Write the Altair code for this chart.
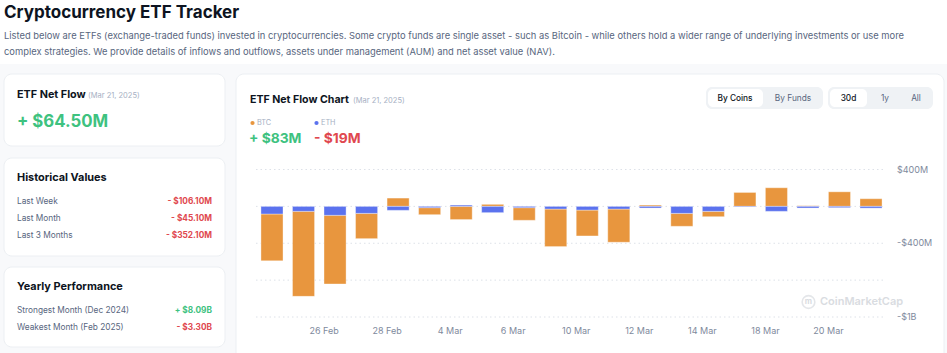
import altair as alt
import pandas as pd

# ---------------- data ----------------
dates = ["24 Feb", "25 Feb", "26 Feb", "27 Feb", "28 Feb", "3 Mar", "4 Mar", "5 Mar",
         "6 Mar", "7 Mar", "10 Mar", "11 Mar", "12 Mar", "13 Mar", "14 Mar", "17 Mar",
         "18 Mar", "19 Mar", "20 Mar", "21 Mar"]
btc_flow = [-508, -922, -745, -274, 90, -76, -143, 22, -137, -407, -281, -360, 14, -140,
            -58, 151, 202, 7, 158, 83]
eth_flow = [-83, -54, -97, -76, -43, -14, 14, -68, -14, -29, -40, -29, -18, -76, -54, -7,
            -54, -18, -14, -19]
coins = ["BTC", "ETH"]
x_tick_labels = ["26 Feb", "28 Feb", "4 Mar", "6 Mar", "10 Mar", "12 Mar", "14 Mar",
                 "18 Mar", "20 Mar"]
y_ticks = [400, 0, -400, -800, -1200]
y_tick_labels = ["$400M", "", "-$400M", "", "-$1B"]

hist_labels = ["Last Week", "Last Month", "Last 3 Months"]
hist_values = ["- $106.10M", "- $45.10M", "- $352.10M"]
perf_labels = ["Strongest Month (Dec 2024)", "Weakest Month (Feb 2025)"]
perf_values = ["+ $8.09B", "- $3.30B"]

# ---------------- style ----------------
FONT = "Inter"
W, H = 947, 353
ORANGE = "#e8963e"
BLUE = "#5b72ee"
GREEN = "#3ec27f"
RED = "#e0484f"
DARK = "#0d1421"
GRAY = "#58667e"
LIGHT = "#a6b0c3"
AXIS = "#808a9d"

rows = []
for d, b, e in zip(dates, btc_flow, eth_flow):
    rows.append({"date": d, "coin": "BTC", "flow": b, "stack_order": 1})
    rows.append({"date": d, "coin": "ETH", "flow": e, "stack_order": 0})
flows = pd.DataFrame(rows)

one = pd.DataFrame({"k": [0]})

x_scale = alt.Scale(domain=dates, range=[251.5, 891.5], paddingInner=0.3, paddingOuter=0.3)
y_scale = alt.Scale(domain=[-1200, 400], range=[317, 169.5], nice=False, zero=False)


def box(x1, y1, x2, y2, fill, radius=8, stroke=None):
    kw = dict(fill=fill, cornerRadius=radius)
    if stroke:
        kw.update(stroke=stroke, strokeWidth=1)
    return alt.Chart(one).mark_rect(**kw).encode(
        x=alt.value(x1), x2=alt.value(x2), y=alt.value(y1), y2=alt.value(y2))


def txt(s, x, y, size, color, weight="normal", align="left"):
    return alt.Chart(one).mark_text(
        text=s, font=FONT, fontSize=size, color=color, fontWeight=weight,
        align=align, baseline="middle").encode(x=alt.value(x), y=alt.value(y))


layers = []
# page background bands
layers.append(box(0, 0, W, 64, "#ffffff", radius=0))
# cards
CARD_STROKE = "#eceff3"
layers.append(box(4, 74, 225, 146, "#ffffff", stroke=CARD_STROKE))
layers.append(box(4, 158, 225, 256, "#ffffff", stroke=CARD_STROKE))
layers.append(box(4, 267, 225, 347, "#ffffff", stroke=CARD_STROKE))
layers.append(box(236, 74, 944, 362, "#ffffff", stroke=CARD_STROKE))

# header
layers.append(txt("Cryptocurrency ETF Tracker", 4, 13, 17, DARK, "bold"))
layers.append(txt("Listed below are ETFs (exchange-traded funds) invested in cryptocurrencies. "
                  "Some crypto funds are single asset - such as Bitcoin - while others hold a "
                  "wider range of underlying investments or use more", 4, 36, 9.4, GRAY))
layers.append(txt("complex strategies. We provide details of inflows and outflows, assets under "
                  "management (AUM) and net asset value (NAV).", 4, 52, 9.4, GRAY))

# card 1
layers.append(txt("ETF Net Flow", 17, 95, 10.8, DARK, "bold"))
layers.append(txt("(Mar 21, 2025)", 88, 96, 7.5, LIGHT))
layers.append(txt("+ $64.50M", 17, 122, 16.8, GREEN, "bold"))

# card 2
layers.append(txt("Historical Values", 17, 178, 10.9, DARK, "bold"))
for i, (lab, val) in enumerate(zip(hist_labels, hist_values)):
    yy = 202 + i * 17
    layers.append(txt(lab, 17, yy, 8.3, GRAY))
    layers.append(txt(val, 212, yy, 8.3, RED, "bold", "right"))

# card 3
layers.append(txt("Yearly Performance", 17, 287, 10.9, DARK, "bold"))
for i, (lab, val) in enumerate(zip(perf_labels, perf_values)):
    yy = 311 + i * 17
    layers.append(txt(lab, 17, yy, 8.3, GRAY))
    layers.append(txt(val, 212, yy, 8.3, GREEN if val.startswith("+") else RED, "bold", "right"))

# chart card header
layers.append(txt("ETF Net Flow Chart", 250, 100, 10.6, DARK, "bold"))
layers.append(txt("(Mar 21, 2025)", 353, 101, 7.5, LIGHT))

# toggle buttons
layers.append(box(706, 87, 823, 109, "#eff2f5", radius=6))
layers.append(box(708, 89, 763, 107, "#ffffff", radius=5))
layers.append(txt("By Coins", 735, 99, 8.3, DARK, 500, "center"))
layers.append(txt("By Funds", 793, 99, 8.3, GRAY, "normal", "center"))
layers.append(box(828, 87, 933, 109, "#eff2f5", radius=6))
layers.append(box(830, 89, 867, 107, "#ffffff", radius=5))
layers.append(txt("30d", 848.5, 99, 8.3, DARK, 500, "center"))
layers.append(txt("1y", 885, 99, 8.3, GRAY, "normal", "center"))
layers.append(txt("All", 916, 99, 8.3, GRAY, "normal", "center"))

# legend
layers.append(alt.Chart(one).mark_circle(size=18, color=ORANGE, opacity=1).encode(
    x=alt.value(252.5), y=alt.value(123)))
layers.append(txt("BTC", 257, 123, 7.3, LIGHT))
layers.append(alt.Chart(one).mark_circle(size=18, color=BLUE, opacity=1).encode(
    x=alt.value(316.5), y=alt.value(123)))
layers.append(txt("ETH", 321, 123, 7.3, LIGHT))
layers.append(txt("+ $83M", 249, 139, 13.8, GREEN, "bold"))
layers.append(txt("- $19M", 314, 139, 13.8, RED, "bold"))

# watermark
layers.append(alt.Chart(one).mark_point(shape="circle", size=160, filled=False,
                                        color="#d9dce1", strokeWidth=1.6).encode(
    x=alt.value(808.5), y=alt.value(302)))
layers.append(txt("m", 808.5, 302, 8, "#d9dce1", 700, "center"))
layers.append(txt("CoinMarketCap", 820, 302, 11, "#d9dce1", 600))

# gridlines + y labels
grid_df = pd.DataFrame({"tick": y_ticks, "label": y_tick_labels})
layers.append(alt.Chart(grid_df).mark_rule(strokeDash=[1.5, 3], color="#dde1e8", strokeWidth=1).encode(
    y=alt.Y("tick:Q", scale=y_scale, axis=None), x=alt.value(256), x2=alt.value(886)))
layers.append(alt.Chart(grid_df).mark_text(align="left", baseline="middle", font=FONT,
                                           fontSize=9, color=AXIS).encode(
    y=alt.Y("tick:Q", scale=y_scale, axis=None), x=alt.value(897), text="label:N"))

# bars
layers.append(alt.Chart(flows).mark_bar(stroke="#ffffff", strokeWidth=0.8, strokeOpacity=0.45).encode(
    x=alt.X("date:N", scale=x_scale, axis=None),
    y=alt.Y("flow:Q", scale=y_scale, axis=None, stack="zero"),
    color=alt.Color("coin:N", scale=alt.Scale(domain=coins, range=[ORANGE, BLUE]), legend=None),
    order=alt.Order("stack_order:Q", sort="ascending"),
))

# x labels
layers.append(alt.Chart(pd.DataFrame({"date": x_tick_labels})).mark_text(
    align="center", baseline="middle", font=FONT, fontSize=9, color=AXIS, dx=-11).encode(
    x=alt.X("date:N", scale=x_scale, axis=None), y=alt.value(331), text="date:N"))

chart = alt.layer(*layers).properties(
    width=W, height=H,
    autosize=alt.AutoSizeParams(type="none"),
    padding=0,
    background="#f8f9fb",
).configure_view(stroke=None)

chart.save("out.html", embed_options={"renderer": "svg", "actions": False})
